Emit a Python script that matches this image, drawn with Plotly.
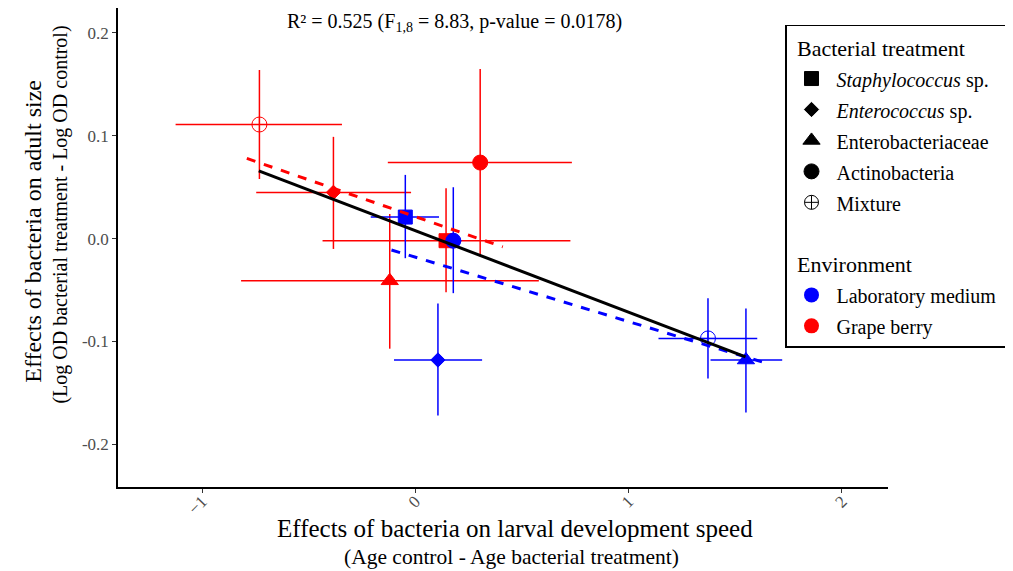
import plotly.graph_objects as go

# treatment order and marker shapes
treatments = ["<i>Staphylococcus</i> sp.", "<i>Enterococcus</i> sp.", "Enterobacteriaceae",
              "Actinobacteria", "Mixture"]
symbols = ["square", "diamond", "triangle-up", "circle", "circle-cross-open"]
sizes = [14, 11, 15, 15, 15]

# Grape berry (red), one value per treatment
red_x = [0.144, -0.384, -0.120, 0.304, -0.731]
red_y = [-0.002, 0.045, -0.041, 0.074, 0.111]
red_x_lo = [-0.435, -0.746, -0.817, -0.129, -1.124]
red_x_hi = [0.727, -0.020, 0.579, 0.734, -0.344]
red_y_lo = [-0.052, -0.010, -0.107, -0.017, 0.058]
red_y_hi = [0.049, 0.099, 0.024, 0.165, 0.164]

# Laboratory medium (blue)
blue_x = [-0.047, 0.106, 1.550, 0.178, 1.372]
blue_y = [0.021, -0.118, -0.118, -0.002, -0.097]
blue_x_lo = [-0.209, -0.100, 1.384, 0.140, 1.140]
blue_x_hi = [0.111, 0.313, 1.720, 0.216, 1.603]
blue_y_lo = [-0.019, -0.172, -0.169, -0.053, -0.136]
blue_y_hi = [0.062, -0.063, -0.068, 0.050, -0.058]

# fitted lines (start/end)
all_fit_x = [-0.734, 1.548]
all_fit_y = [0.066, -0.115]
red_fit_x = [-0.790, 0.410]
red_fit_y = [0.078, -0.008]
blue_fit_x = [-0.112, 1.644]
blue_fit_y = [-0.011, -0.121]

x_ticks = [-1, 0, 1, 2]
y_ticks = [-0.2, -0.1, 0.0, 0.1, 0.2]
y_tick_text = ["-0.2", "-0.1", "0.0", "0.1", "0.2"]

RED = "#FF0000"
BLUE = "#0000FF"
FONT = "Liberation Serif"
NBSP = "\u00a0"


def add_env(fig, xs, ys, xlo, xhi, ylo, yhi, color, name):
    fig.add_trace(go.Scatter(
        x=xs, y=ys, mode="markers", name=name, showlegend=False,
        marker=dict(symbol=symbols, size=sizes, color=color, opacity=1,
                    line=dict(color=color, width=1)),
        error_x=dict(type="data", symmetric=False,
                     array=[h - v for h, v in zip(xhi, xs)],
                     arrayminus=[v - l for l, v in zip(xlo, xs)],
                     color=color, thickness=1.5, width=0),
        error_y=dict(type="data", symmetric=False,
                     array=[h - v for h, v in zip(yhi, ys)],
                     arrayminus=[v - l for l, v in zip(ylo, ys)],
                     color=color, thickness=1.5, width=0),
    ))


fig = go.Figure()
add_env(fig, red_x, red_y, red_x_lo, red_x_hi, red_y_lo, red_y_hi, RED, "Grape berry")
add_env(fig, blue_x, blue_y, blue_x_lo, blue_x_hi, blue_y_lo, blue_y_hi, BLUE, "Laboratory medium")

fig.add_trace(go.Scatter(x=red_fit_x, y=red_fit_y, mode="lines", showlegend=False,
                         line=dict(color=RED, width=3, dash="dash")))
fig.add_trace(go.Scatter(x=blue_fit_x, y=blue_fit_y, mode="lines", showlegend=False,
                         line=dict(color=BLUE, width=3, dash="dash")))
fig.add_trace(go.Scatter(x=all_fit_x, y=all_fit_y, mode="lines", showlegend=False,
                         line=dict(color="black", width=3)))

# legend entries (big legend font only sets row spacing, the span sets the visible size)
leg_sizes = [14, 11, 15, 15, 14]
for i, (t, s) in enumerate(zip(treatments, symbols)):
    grp_title = dict(text=NBSP + "Bacterial treatment",
                     font=dict(size=22, family=FONT, color="black")) if i == 0 else None
    fig.add_trace(go.Scatter(
        x=[None], y=[None], mode="markers",
        name=f"<span style='font-size:20px'>{t}</span>", legendgroup="treat",
        legendgrouptitle=grp_title,
        marker=dict(symbol=s, size=leg_sizes[i], color="black", line=dict(color="black", width=1)),
    ))
for i, (n, c) in enumerate([("Laboratory medium" + NBSP * 2, BLUE), ("Grape berry", RED)]):
    grp_title = dict(text=NBSP + "Environment",
                     font=dict(size=22, family=FONT, color="black")) if i == 0 else None
    fig.add_trace(go.Scatter(
        x=[None], y=[None], mode="markers",
        name=f"<span style='font-size:20px'>{n}</span>", legendgroup="env",
        legendgrouptitle=grp_title,
        marker=dict(symbol="circle", size=15, color=c),
    ))

fig.add_annotation(
    text="R² = 0.525 (F<sub>1,8</sub> = 8.83, p-value = 0.0178)",
    x=0.4365, y=0.969, xref="paper", yref="paper", showarrow=False,
    xanchor="center", yanchor="middle",
    font=dict(size=20, family=FONT, color="black"),
)

# axis titles
fig.add_annotation(text="Effects of bacteria on larval development speed",
                   x=0.5155, y=-0.0875, xref="paper", yref="paper", showarrow=False,
                   xanchor="center", yanchor="middle",
                   font=dict(size=25, family=FONT, color="black"))
fig.add_annotation(text="(Age control - Age bacterial treatment)",
                   x=0.5104, y=-0.1458, xref="paper", yref="paper", showarrow=False,
                   xanchor="center", yanchor="middle",
                   font=dict(size=21.5, family=FONT, color="black"))
fig.add_annotation(text="Effects of bacteria on adult size", textangle=-90,
                   x=-0.1114, y=0.5333, xref="paper", yref="paper", showarrow=False,
                   xanchor="center", yanchor="middle",
                   font=dict(size=24, family=FONT, color="black"))
fig.add_annotation(text="(Log OD bacterial treatment - Log OD control)", textangle=-90,
                   x=-0.0751, y=0.569, xref="paper", yref="paper", showarrow=False,
                   xanchor="center", yanchor="middle",
                   font=dict(size=20, family=FONT, color="black"))

# page body adds 8px, so the figure is drawn 8px smaller and margins shifted
fig.update_layout(
    width=1005, height=563,
    margin=dict(l=110, r=123, t=0, b=84),
    plot_bgcolor="white", paper_bgcolor="white",
    font=dict(family=FONT, color="black"),
    xaxis=dict(
        range=[-1.394, 2.216], tickvals=x_ticks, tickangle=-45, automargin=False,
        showgrid=False, zeroline=False, ticklabelstandoff=-8,
        showline=True, linecolor="black", linewidth=1.5,
        ticks="outside", ticklen=4, tickcolor="#333333",
        tickfont=dict(size=17, color="#4D4D4D", family=FONT),
    ),
    yaxis=dict(
        range=[-0.2415, 0.2243], tickvals=y_ticks, ticktext=y_tick_text, automargin=False,
        showgrid=False, zeroline=False,
        showline=True, linecolor="black", linewidth=1.5,
        ticks="outside", ticklen=4, tickcolor="#333333",
        tickfont=dict(size=17, color="#4D4D4D", family=FONT),
    ),
    legend=dict(
        x=0.8666, y=0.9646, xanchor="left", yanchor="top",
        bgcolor="white", bordercolor="black", borderwidth=1.5,
        font=dict(size=21.5, family=FONT, color="black"),
        tracegroupgap=30, itemsizing="trace", itemwidth=40,
    ),
)

fig.write_html("out.html")
